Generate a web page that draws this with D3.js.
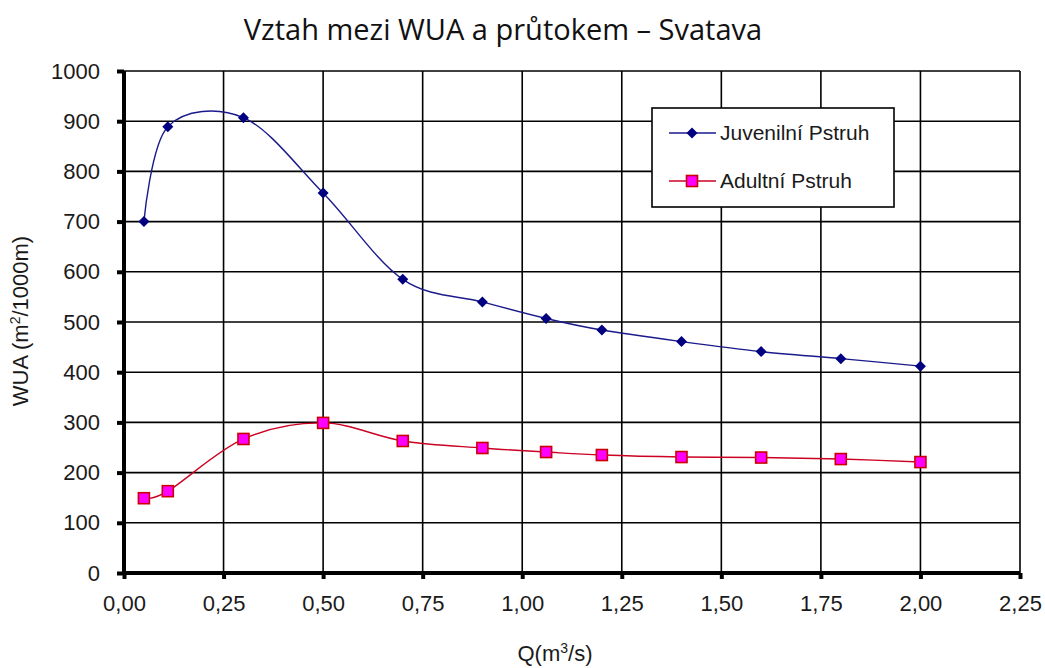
<!DOCTYPE html>
<html><head><meta charset="utf-8">
<script src="https://cdn.jsdelivr.net/npm/d3@7"></script>
<style>body{margin:0;background:#fff}</style>
</head><body>
<svg id="c" width="1045" height="668"></svg>
<script>
const flows = [0.05, 0.11, 0.30, 0.50, 0.70, 0.90, 1.06, 1.20, 1.40, 1.60, 1.80, 2.00];
const juvenile = [700, 889, 907, 757, 585, 540, 507, 484, 461, 441, 427, 412];
const adult = [149, 163, 267, 299, 263, 249, 241, 235, 231, 230, 227, 221];
const xTicks = [0, 0.25, 0.5, 0.75, 1, 1.25, 1.5, 1.75, 2, 2.25];
const yTicks = [0, 100, 200, 300, 400, 500, 600, 700, 800, 900, 1000];
const seriesNames = ["Juvenilní Pstruh", "Adultní Pstruh"];

const svg = d3.select("#c");
const x = d3.scaleLinear().domain([0, 2.25]).range([124, 1020]);
const y = d3.scaleLinear().domain([0, 1000]).range([573, 71]);
const fmt = d => d.toFixed(2).replace(".", ",");
const FONT = "Liberation Sans, Arial, sans-serif";

// grid
svg.append("g").selectAll("line").data(yTicks).join("line")
  .attr("x1", x(0)).attr("x2", x(2.25)).attr("y1", d => y(d)).attr("y2", d => y(d))
  .attr("stroke", "#000").attr("stroke-width", 1.6);
svg.append("g").selectAll("line").data(xTicks).join("line")
  .attr("y1", y(0)).attr("y2", y(1000)).attr("x1", d => x(d)).attr("x2", d => x(d))
  .attr("stroke", "#000").attr("stroke-width", 1.6);

// axes
const ya = svg.append("g").attr("transform", `translate(${x(0)},0)`)
  .call(d3.axisLeft(y).tickValues(yTicks).tickSize(7).tickPadding(17).tickFormat(d3.format("d")));
const xa = svg.append("g").attr("transform", `translate(0,${y(0)})`)
  .call(d3.axisBottom(x).tickValues(xTicks).tickSize(6).tickPadding(16).tickFormat(fmt));
[ya, xa].forEach(a => {
  a.select(".domain").attr("stroke", "#000").attr("stroke-width", 4);
  a.selectAll(".tick line").attr("stroke", "#000").attr("stroke-width", 4);
  a.selectAll(".tick text").attr("font-family", FONT)
    .attr("font-size", 22).attr("fill", "#1a1a1a");
});
ya.select(".domain").attr("d", `M0,${y(0)+2}V${y(1000)}`);
xa.select(".domain").attr("d", `M${x(0)-2},0H${x(2.25)}`);

// lines
const line = d3.line().x(d => x(d[0])).y(d => y(d[1])).curve(d3.curveCatmullRom.alpha(0));
const jd = flows.map((f, i) => [f, juvenile[i]]);
const ad = flows.map((f, i) => [f, adult[i]]);
svg.append("path").datum(jd).attr("d", line).attr("fill", "none").attr("stroke", "#1a1a8c").attr("stroke-width", 1.4);
svg.append("path").datum(ad).attr("d", line).attr("fill", "none").attr("stroke", "#cc0022").attr("stroke-width", 1.4);

const diamond = (cx, cy, r) => `M${cx},${cy-r}L${cx+r},${cy}L${cx},${cy+r}L${cx-r},${cy}Z`;
svg.append("g").selectAll("path").data(jd).join("path")
  .attr("d", d => diamond(x(d[0]), y(d[1]), 5.5)).attr("fill", "#000080");
svg.append("g").selectAll("rect").data(ad).join("rect")
  .attr("x", d => x(d[0]) - 5.5).attr("y", d => y(d[1]) - 5.5).attr("width", 11).attr("height", 11)
  .attr("fill", "#ff00ff").attr("stroke", "#cc0000").attr("stroke-width", 1.6);

// legend
const lg = svg.append("g");
lg.append("rect").attr("x", 652).attr("y", 108).attr("width", 242).attr("height", 99)
  .attr("fill", "#fff").attr("stroke", "#000").attr("stroke-width", 1.6);
const rows = [133, 181];
lg.append("line").attr("x1", 669).attr("x2", 716).attr("y1", rows[0]).attr("y2", rows[0]).attr("stroke", "#1a1a8c").attr("stroke-width", 1.4);
lg.append("path").attr("d", diamond(692, rows[0], 5.5)).attr("fill", "#000080");
lg.append("line").attr("x1", 669).attr("x2", 716).attr("y1", rows[1]).attr("y2", rows[1]).attr("stroke", "#cc0022").attr("stroke-width", 1.4);
lg.append("rect").attr("x", 686.5).attr("y", rows[1] - 5.5).attr("width", 11).attr("height", 11)
  .attr("fill", "#ff00ff").attr("stroke", "#cc0000").attr("stroke-width", 1.6);
lg.selectAll("text").data(seriesNames).join("text")
  .attr("x", 720).attr("y", (d, i) => rows[i] + 7).text(d => d)
  .attr("font-family", FONT).attr("font-size", 21).attr("fill", "#1a1a1a");

// titles
svg.append("text").attr("x", 503).attr("y", 40).attr("text-anchor", "middle")
  .attr("font-family", "Open Sans, Lato, sans-serif").attr("font-size", 29).attr("fill", "#111")
  .text("Vztah mezi WUA a průtokem – Svatava");
const yl = svg.append("text").attr("transform", "translate(28,321) rotate(-90)").attr("text-anchor", "middle")
  .attr("font-family", FONT).attr("font-size", 22).attr("fill", "#1a1a1a");
yl.append("tspan").text("WUA (m");
yl.append("tspan").attr("font-size", 14).attr("dy", -8).text("2");
yl.append("tspan").attr("dy", 8).text("/1000m)");
const xl = svg.append("text").attr("x", 555).attr("y", 661).attr("text-anchor", "middle")
  .attr("font-family", FONT).attr("font-size", 22).attr("fill", "#1a1a1a");
xl.append("tspan").text("Q(m");
xl.append("tspan").attr("font-size", 14).attr("dy", -8).text("3");
xl.append("tspan").attr("dy", 8).text("/s)");
</script>
</body></html>
